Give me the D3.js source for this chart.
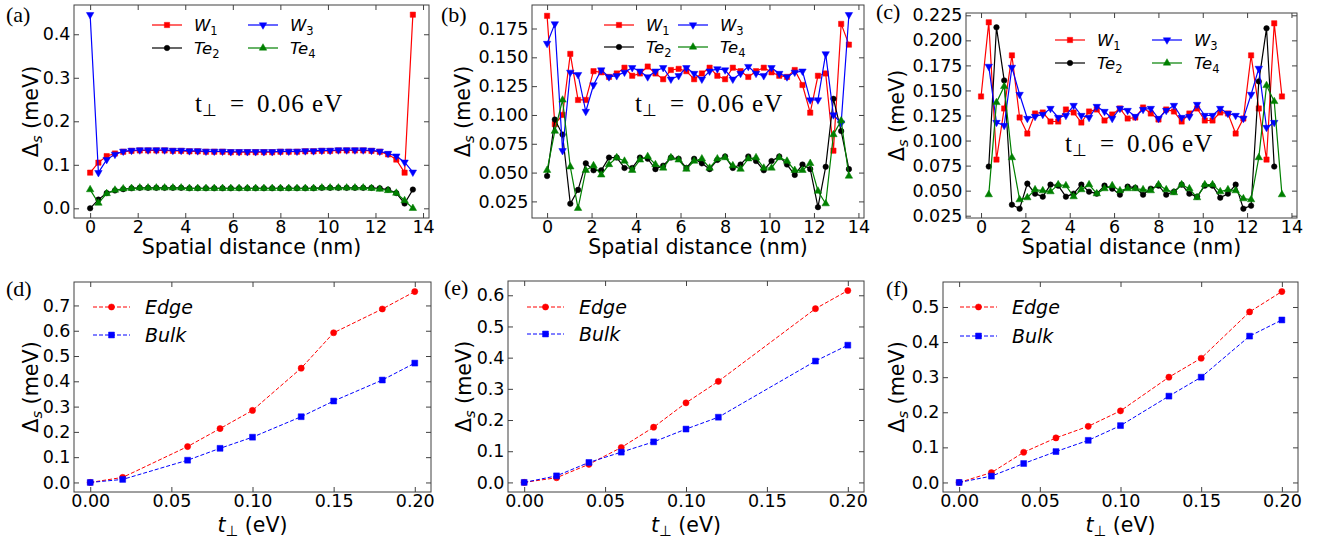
<!DOCTYPE html>
<html><head><meta charset="utf-8">
<script src="https://cdn.jsdelivr.net/npm/d3@7"></script>
<style>body{margin:0;background:#fff;} svg{display:block;font-family:"DejaVu Sans",sans-serif;}</style>
</head><body>
<svg id="chart" width="1328" height="542"></svg>
<script>
// ---------------- data ----------------
const distance = [0.000,0.348,0.696,1.044,1.392,1.740,2.088,2.436,2.784,3.132,3.480,3.828,4.176,4.524,4.872,5.220,5.568,5.916,6.264,6.612,6.960,7.308,7.656,8.004,8.352,8.700,9.048,9.396,9.744,10.092,10.440,10.788,11.136,11.484,11.832,12.180,12.528,12.876,13.224,13.572];

const aW1 = [0.082,0.105,0.120,0.126,0.130,0.132,0.133,0.133,0.133,0.133,0.132,0.132,0.131,0.131,0.130,0.130,0.130,0.129,0.129,0.129,0.129,0.129,0.129,0.130,0.130,0.130,0.131,0.131,0.132,0.132,0.133,0.133,0.133,0.133,0.132,0.130,0.124,0.112,0.082,0.445];
const aTe2 = [0.000,0.020,0.035,0.041,0.044,0.046,0.047,0.047,0.047,0.047,0.047,0.047,0.046,0.046,0.046,0.046,0.046,0.046,0.046,0.046,0.046,0.046,0.046,0.046,0.046,0.046,0.046,0.046,0.047,0.047,0.047,0.047,0.047,0.047,0.047,0.046,0.043,0.035,0.011,0.043];
const aW3 = [0.445,0.082,0.112,0.124,0.131,0.133,0.134,0.134,0.134,0.134,0.133,0.133,0.132,0.132,0.131,0.131,0.131,0.130,0.130,0.130,0.130,0.130,0.130,0.131,0.131,0.131,0.132,0.132,0.133,0.133,0.134,0.134,0.134,0.134,0.133,0.131,0.126,0.120,0.106,0.083];
const aTe4 = [0.043,0.012,0.034,0.042,0.045,0.046,0.047,0.047,0.047,0.047,0.047,0.047,0.046,0.046,0.046,0.046,0.046,0.046,0.046,0.046,0.046,0.046,0.046,0.046,0.046,0.046,0.046,0.046,0.047,0.047,0.047,0.047,0.047,0.047,0.046,0.044,0.041,0.035,0.018,0.000];

const bW1 = [0.186,0.092,0.100,0.153,0.113,0.113,0.138,0.137,0.133,0.136,0.141,0.134,0.136,0.142,0.136,0.131,0.139,0.140,0.138,0.131,0.136,0.141,0.134,0.131,0.141,0.138,0.133,0.138,0.141,0.137,0.134,0.133,0.139,0.126,0.102,0.134,0.136,0.069,0.179,0.161];
const bTe2 = [0.047,0.096,0.083,0.023,0.035,0.058,0.052,0.052,0.063,0.063,0.054,0.054,0.063,0.062,0.053,0.056,0.063,0.062,0.054,0.062,0.058,0.053,0.061,0.064,0.054,0.057,0.064,0.060,0.052,0.060,0.064,0.057,0.048,0.057,0.053,0.020,0.055,0.114,0.086,0.053];
const bW3 = [0.162,0.179,0.069,0.137,0.135,0.103,0.126,0.139,0.133,0.134,0.137,0.141,0.138,0.133,0.138,0.141,0.131,0.134,0.141,0.136,0.131,0.138,0.140,0.139,0.131,0.136,0.142,0.136,0.134,0.141,0.136,0.133,0.137,0.138,0.113,0.113,0.153,0.100,0.093,0.187];
const bTe4 = [0.052,0.086,0.113,0.055,0.019,0.052,0.056,0.048,0.057,0.063,0.060,0.052,0.061,0.064,0.057,0.054,0.063,0.061,0.053,0.060,0.062,0.054,0.062,0.063,0.056,0.053,0.062,0.063,0.054,0.054,0.063,0.060,0.052,0.052,0.058,0.034,0.023,0.083,0.095,0.047];

const cW1 = [0.144,0.218,0.081,0.132,0.185,0.123,0.107,0.127,0.128,0.119,0.119,0.131,0.128,0.118,0.129,0.131,0.120,0.126,0.132,0.122,0.123,0.133,0.127,0.121,0.131,0.129,0.119,0.127,0.132,0.120,0.120,0.128,0.127,0.107,0.122,0.185,0.132,0.081,0.217,0.144];
const cTe2 = [null,0.074,0.213,0.160,0.036,0.032,0.057,0.047,0.044,0.056,0.055,0.044,0.047,0.056,0.049,0.047,0.055,0.052,0.046,0.054,0.053,0.046,0.052,0.055,0.046,0.049,0.056,0.047,0.044,0.055,0.055,0.043,0.047,0.056,0.032,0.035,0.159,0.212,0.074,null];
const cW3 = [null,0.174,0.118,0.115,0.173,0.146,0.122,0.124,0.126,0.132,0.123,0.125,0.135,0.125,0.123,0.134,0.129,0.122,0.132,0.130,0.124,0.131,0.132,0.122,0.130,0.135,0.123,0.124,0.136,0.125,0.125,0.132,0.127,0.125,0.122,0.146,0.172,0.113,0.118,null];
const cTe4 = [null,0.046,0.138,0.154,0.083,0.041,0.043,0.051,0.050,0.049,0.056,0.055,0.044,0.051,0.056,0.047,0.052,0.055,0.050,0.052,0.052,0.051,0.050,0.056,0.051,0.048,0.056,0.052,0.043,0.056,0.056,0.049,0.051,0.050,0.042,0.041,0.083,0.155,0.139,0.046];

const tPerpD = [0,0.02,0.06,0.08,0.10,0.13,0.15,0.18,0.20];
const dEdge = [0,0.020,0.142,0.213,0.285,0.452,0.592,0.686,0.755];
const dBulk = [0,0.012,0.088,0.135,0.179,0.260,0.322,0.405,0.472];
const tPerpE = [0,0.02,0.04,0.06,0.08,0.10,0.12,0.18,0.20];
const eEdge = [0,0.015,0.058,0.112,0.177,0.255,0.324,0.557,0.615];
const eBulk = [0,0.021,0.064,0.097,0.130,0.171,0.209,0.389,0.440];
const tPerpF = [0,0.02,0.04,0.06,0.08,0.10,0.13,0.15,0.18,0.20];
const fEdge = [0,0.028,0.086,0.127,0.160,0.204,0.300,0.354,0.486,0.544];
const fBulk = [0,0.018,0.054,0.088,0.120,0.162,0.246,0.300,0.417,0.463];

const distTicks = [0,2,4,6,8,10,12,14];
const aYTicks = [0,0.1,0.2,0.3,0.4];
const bYTicks = [0.025,0.05,0.075,0.1,0.125,0.15,0.175];
const cYTicks = [0.025,0.05,0.075,0.1,0.125,0.15,0.175,0.2,0.225];
const tTicks = [0,0.05,0.1,0.15,0.2];
const dYTicks = [0,0.1,0.2,0.3,0.4,0.5,0.6,0.7];
const eYTicks = [0,0.1,0.2,0.3,0.4,0.5,0.6];
const fYTicks = [0,0.1,0.2,0.3,0.4,0.5];

const panelLabels = ["(a)","(b)","(c)","(d)","(e)","(f)"];
const siteNames = [["W","1"],["Te","2"],["W","3"],["Te","4"]];
const couplingNames = ["Edge","Bulk"];
const annotation = ["t","⊥","=","0.06 eV"];

// ---------------- drawing ----------------
const svg = d3.select("#chart");
const FRAME = "#404040";

function pad(vals){
  const e = d3.extent(vals.filter(v => v != null));
  const r = e[1]-e[0];
  return [e[0]-0.05*r, e[1]+0.05*r];
}

const markers = {
  square: {type: d3.symbolSquare, size: 28},
  circle: {type: d3.symbolCircle, size: 24},
  tri: {type: d3.symbolTriangle, size: 24, rot: 0},
  triDown: {type: d3.symbolTriangle, size: 24, rot: 180}
};

function drawMarker(g, m, cx, cy, color, sizeScale){
  g.append("path")
    .attr("d", d3.symbol().type(m.type).size(m.size*(sizeScale||1))())
    .attr("transform", `translate(${cx},${cy})` + (m.rot ? ` rotate(${m.rot})` : ""))
    .attr("fill", color).attr("stroke", color).attr("stroke-width", 0.5);
}

function frame(o){
  const g = svg.append("g");
  const x = d3.scaleLinear().domain(o.xDomain).range([o.left, o.right]);
  const y = d3.scaleLinear().domain(o.yDomain).range([o.bottom, o.top]);
  const tl = 5;
  const ax = (gen, tr) => {
    const a = g.append("g").attr("transform", tr).call(gen);
    a.select(".domain").remove();
    a.selectAll(".tick line").attr("stroke", FRAME);
    a.selectAll("text").attr("fill","#000").style("font-size","17.5px").style("font-family","DejaVu Sans");
    return a;
  };
  ax(d3.axisBottom(x).tickValues(o.xTicks).tickFormat(o.xFmt).tickSizeInner(-tl).tickSizeOuter(0).tickPadding(2.5), `translate(0,${o.bottom})`);
  ax(d3.axisTop(x).tickValues(o.xTicks).tickFormat("").tickSizeInner(-tl).tickSizeOuter(0), `translate(0,${o.top})`);
  ax(d3.axisLeft(y).tickValues(o.yTicks).tickFormat(o.yFmt).tickSizeInner(-tl).tickSizeOuter(0).tickPadding(3.5), `translate(${o.left},0)`);
  ax(d3.axisRight(y).tickValues(o.yTicks).tickFormat("").tickSizeInner(-tl).tickSizeOuter(0), `translate(${o.right},0)`);
  g.append("rect").attr("x", o.left).attr("y", o.top).attr("width", o.right-o.left).attr("height", o.bottom-o.top)
    .attr("fill","none").attr("stroke", FRAME).attr("stroke-width", 1);
  // y label
  const yl = g.append("text").attr("transform", `translate(${o.ylabelX},${(o.top+o.bottom)/2}) rotate(-90)`)
    .attr("text-anchor","middle").style("font-size","20.7px").attr("fill","#000");
  yl.append("tspan").text("Δ");
  yl.append("tspan").text("s").attr("font-style","italic").style("font-size","14.5px").attr("dy", 4);
  yl.append("tspan").text(" (meV)").attr("dy", -4);
  // x label
  const xl = g.append("text").attr("x", (o.left+o.right)/2).attr("y", o.xlabelY)
    .attr("text-anchor","middle").style("font-size","20.5px").attr("fill","#000");
  if (o.xlabel === "dist") {
    xl.text("Spatial distance (nm)");
  } else {
    xl.append("tspan").text("t").attr("font-style","italic");
    xl.append("tspan").text("⊥").style("font-size","14.5px").attr("dy", 4);
    xl.append("tspan").text(" (eV)").attr("dy", -4);
  }
  // panel label
  g.append("text").attr("x", o.labelX).attr("y", o.labelY).text(o.label)
    .style("font-family","Liberation Serif, serif").style("font-size","22px").attr("fill","#000");
  return {g, x, y};
}

function topPanel(o, series){
  const all = [].concat(...series.map(s => s.vals));
  o.xDomain = pad(distance); o.yDomain = pad(all);
  o.xTicks = distTicks; o.xFmt = d3.format("d"); o.xlabel = "dist";
  const {g, x, y} = frame(o);
  const line = d3.line().defined(d => d[1] != null).x(d => x(d[0])).y(d => y(d[1]));
  series.forEach(s => {
    const pts = distance.map((d,i) => [d, s.vals[i]]);
    g.append("path").attr("d", line(pts)).attr("fill","none").attr("stroke", s.color).attr("stroke-width", 1.2);
    pts.filter(p => p[1] != null).forEach(p => drawMarker(g, s.marker, x(p[0]), y(p[1]), s.color));
  });
  // legend (2 columns)
  series.forEach((s, i) => {
    const col = Math.floor(i/2), row = i%2;
    const lx = o.leg.x[col], ly = o.leg.y[row];
    g.append("line").attr("x1", lx).attr("x2", lx+30).attr("y1", ly).attr("y2", ly).attr("stroke", s.color).attr("stroke-width",1.2);
    drawMarker(g, s.marker, lx+15, ly, s.color);
    const t = g.append("text").attr("x", lx+42).attr("y", ly+6).style("font-size","16.5px").attr("fill","#000");
    t.append("tspan").text(s.name[0]).attr("font-style","italic");
    t.append("tspan").text(s.name[1]).style("font-size","11.5px").attr("dy", 3.5);
  });
  // annotation
  const an = g.append("text").attr("x", o.ann[0]).attr("y", o.ann[1]).style("font-family","Liberation Serif, serif").style("font-size","25px").attr("fill","#000");
  an.append("tspan").text(annotation[0]);
  an.append("tspan").text(annotation[1]).style("font-size","17px").attr("dy", 4);
  an.append("tspan").text(annotation[2]).attr("dy", -4).attr("dx", 13);
  an.append("tspan").text(annotation[3]).attr("dx", 13).style("letter-spacing","1px");
}

function bottomPanel(o, xs, edge, bulk){
  o.xDomain = pad(xs); o.yDomain = pad(edge.concat(bulk));
  o.xTicks = tTicks; o.xFmt = d3.format(".2f"); o.yFmt = d3.format(".1f"); o.xlabel = "t";
  const {g, x, y} = frame(o);
  const line = d3.line().x(d => x(d[0])).y(d => y(d[1]));
  const series = [
    {name: couplingNames[0], vals: edge, color: "#ff0000", marker: markers.circle},
    {name: couplingNames[1], vals: bulk, color: "#0000ff", marker: markers.square}
  ];
  series.forEach(s => {
    const pts = xs.map((d,i) => [d, s.vals[i]]);
    g.append("path").attr("d", line(pts)).attr("fill","none").attr("stroke", s.color).attr("stroke-width", 1).attr("stroke-dasharray","4,2");
    pts.forEach(p => drawMarker(g, s.marker, x(p[0]), y(p[1]), s.color, 1.25));
  });
  series.forEach((s, i) => {
    const lx = o.leg.x, ly = o.leg.y[i];
    g.append("line").attr("x1", lx).attr("x2", lx+37).attr("y1", ly).attr("y2", ly).attr("stroke", s.color).attr("stroke-width",1).attr("stroke-dasharray","4,2");
    drawMarker(g, s.marker, lx+18.5, ly, s.color, 1.25);
    g.append("text").attr("x", lx+52).attr("y", ly+7).text(s.name).attr("font-style","italic").style("font-size","19px").attr("fill","#000");
  });
}

const R="#ff0000", B="#0000ff", K="#000000", G="#008000";
function sites(w1, te2, w3, te4){
  return [
    {name: siteNames[0], vals: w1, color: R, marker: markers.square},
    {name: siteNames[1], vals: te2, color: K, marker: markers.circle},
    {name: siteNames[2], vals: w3, color: B, marker: markers.triDown},
    {name: siteNames[3], vals: te4, color: G, marker: markers.tri}
  ];
}

topPanel({left:74, right:429, top:5, bottom:218, yTicks:aYTicks, yFmt:d3.format(".1f"), ylabelX:37.5, xlabelY:254,
  label:panelLabels[0], labelX:6, labelY:22, leg:{x:[152,248], y:[25,48]}, ann:[195,112]}, sites(aW1,aTe2,aW3,aTe4));
topPanel({left:532, right:864, top:5, bottom:218, yTicks:bYTicks, yFmt:d3.format(".3f"), ylabelX:470, xlabelY:254,
  label:panelLabels[1], labelX:441, labelY:22, leg:{x:[604,678], y:[25,47]}, ann:[635,112]}, sites(bW1,bTe2,bW3,bTe4));
topPanel({left:966, right:1297, top:13, bottom:218, yTicks:cYTicks, yFmt:d3.format(".3f"), ylabelX:904, xlabelY:254,
  label:panelLabels[2], labelX:876, labelY:19, leg:{x:[1055,1152], y:[40,63]}, ann:[1065,152]}, sites(cW1,cTe2,cW3,cTe4));

bottomPanel({left:74, right:431, top:282, bottom:492, yTicks:dYTicks, ylabelX:37.5, xlabelY:532,
  label:panelLabels[3], labelX:6, labelY:296, leg:{x:93, y:[307,335]}}, tPerpD, dEdge, dBulk);
bottomPanel({left:508, right:864, top:281, bottom:492, yTicks:eYTicks, ylabelX:471, xlabelY:532,
  label:panelLabels[4], labelX:444, labelY:295, leg:{x:527, y:[307,334]}}, tPerpE, eEdge, eBulk);
bottomPanel({left:943, right:1298, top:282, bottom:492, yTicks:fYTicks, ylabelX:904, xlabelY:532,
  label:panelLabels[5], labelX:886, labelY:296, leg:{x:960, y:[307,336]}}, tPerpF, fEdge, fBulk);
</script>
</body></html>
